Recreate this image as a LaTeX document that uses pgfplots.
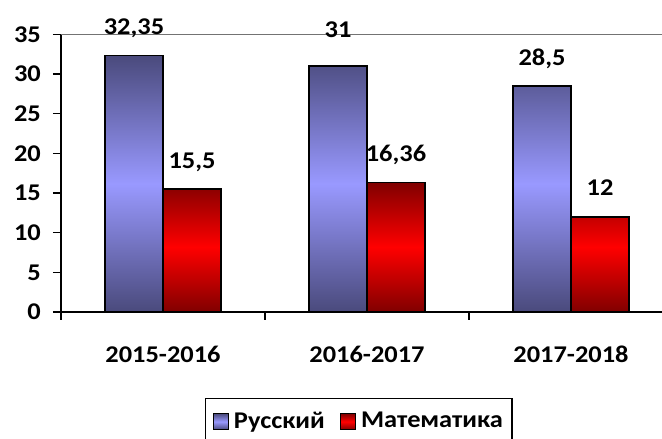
\documentclass[border=0pt]{standalone}
\usepackage{fontspec}
\setmainfont{Carlito}[FakeStretch=1.1]
\usepackage{pgfplots}
\pgfplotsset{compat=1.18}
\usepackage{pgfplotstable}
\definecolor{bdark}{RGB}{74,74,124}
\definecolor{blight}{RGB}{153,153,255}
\definecolor{rdark}{RGB}{128,0,0}
\definecolor{rlight}{RGB}{255,0,0}
\pgfplotstableread{
x y label
1 32.35 32,35
2 31 \raisebox{8pt}{31}
3 28.5 28,5
}\rus
\pgfplotstableread{
x y label
1 15.5 15,5
2 16.36 16,36
3 12 12
}\mat
\begin{document}
\fontsize{24}{28}\selectfont\bfseries
\begin{tikzpicture}[x=1pt,y=1pt]
\useasboundingbox (0,0) rectangle (662,439);
\begin{axis}[
  at={(61pt,127pt)}, anchor=south west,
  scale only axis, width=601pt, height=277.5pt,
  xmin=0.5, xmax=3.446, ymin=0, ymax=35,
  axis lines=left,
  axis line style={-, line width=1.6pt, black},
  tick align=outside,
  major tick length=8pt,
  tick style={black, line width=1.3pt},
  ytick={0,5,...,35},
  xtick={0.5,1.5,2.5},
  xticklabels={},
  extra x ticks={1,2,3},
  extra x tick labels={2015-2016,2016-2017,2017-2018},
  extra x tick style={major tick length=0pt, tick style={draw=none},
    xticklabel style={yshift=-26pt}},
  extra y ticks={35},
  extra y tick labels={},
  extra y tick style={grid=major, major tick length=0pt,
    major grid style={draw=black!55, line width=1.5pt}},
  yticklabel style={xshift=-4pt},
  /pgf/number format/use comma,
  /pgf/number format/1000 sep={},
  /pgf/number format/assume math mode=true,
  ybar=0pt, bar width=58pt,
  clip=false,
  point meta=explicit symbolic,
  nodes near coords,
  nodes near coords style={anchor=base, yshift=21pt},
  legend columns=2,
  legend style={at={(axis description cs:0.2396,-0.31)}, anchor=north west,
    draw=black, line width=1.3pt, inner xsep=7pt, inner ysep=11pt,
    /tikz/every even column/.append style={column sep=13pt}},
  legend image code/.code={\draw[#1, line width=1.2pt] (0pt,-8pt) rectangle (15pt,8pt); \path (18pt,0pt);},
]
\addplot[draw=black, line width=1.5pt, top color=bdark, bottom color=bdark, middle color=blight] table[x=x,y=y,meta=label] {\rus};
\addplot[draw=black, line width=1.5pt, top color=rdark, bottom color=rdark, middle color=rlight] table[x=x,y=y,meta=label] {\mat};
\legend{Русский, Математика}
\end{axis}
\end{tikzpicture}
\end{document}
